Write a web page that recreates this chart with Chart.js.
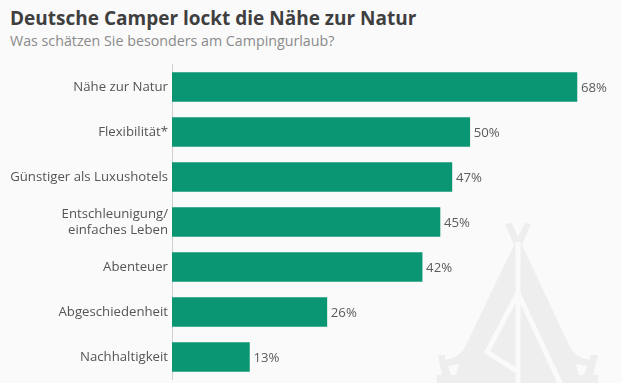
<!DOCTYPE html>
<html lang="de"><head><meta charset="utf-8">
<script src="https://cdn.jsdelivr.net/npm/chart.js@4"></script>
<style>
html,body{margin:0;padding:0;background:#fafafa;width:621px;height:383px;overflow:hidden;font-family:"Open Sans",sans-serif}
#title{position:absolute;left:10px;top:3px;margin:0;font-size:19px;line-height:30px;font-weight:700;color:#3f3f3f;white-space:nowrap}
#sub{position:absolute;left:10px;top:31px;margin:0;font-size:14.25px;line-height:20px;font-weight:400;color:#8a8a8a;white-space:nowrap}
#tent{position:absolute;left:0;top:0}
#wrap{position:absolute;left:0;top:0;width:621px;height:383px}
</style></head><body>
<svg id="tent" width="621" height="383" viewBox="0 0 621 383">
<path fill="#eeeeee" d="M514 245 L466 345 Q460 358 445 360 L445 355 L438 355 L442 375 L437 375 L437 383 L598 383 L598 375 L593 375 L598 355 L590 355 L590 360 Q575 358 569 345 L522 245 Z"/>
<path fill="#eeeeee" d="M505 224 L512 223 L518 237 L525 223 L531 224 L522 245 L514 245 Z"/>
<g fill="none" stroke="#fafafa" stroke-width="5">
<path d="M518 242 L518 383"/>
<path d="M518 293 L487 352 L518 372"/>
<path d="M518 293 L561 385"/>
</g>
<g fill="#fafafa"><path d="M448 366 L459 364 L456 375 L451 375 Z"/><path d="M576 364 L587 366 L584 375 L579 375 Z"/></g>
</svg>
<h1 id="title">Deutsche Camper lockt die Nähe zur Natur</h1>
<p id="sub">Was schätzen Sie besonders am Campingurlaub?</p>
<div id="wrap"><canvas id="c" width="621" height="383"></canvas></div>
<script>
const categories = ["Nähe zur Natur","Flexibilität*","Günstiger als Luxushotels",["Entschleunigung/","einfaches Leben"],"Abenteuer","Abgeschiedenheit","Nachhaltigkeit"];
const values = [68,50,47,45,42,26,13];
const valueLabels = ["68%","50%","47%","45%","42%","26%","13%"];
const valueLabelPlugin = {
  id:"valueLabels",
  afterDatasetsDraw(chart){
    const ctx=chart.ctx, meta=chart.getDatasetMeta(0);
    ctx.save();
    ctx.font='13.2px "Open Sans"';
    ctx.fillStyle="#5c5c5c";
    ctx.textAlign="left";ctx.textBaseline="middle";
    meta.data.forEach((bar,i)=>ctx.fillText(valueLabels[i],bar.x+4,bar.y+1));
    ctx.restore();
  }
};
new Chart(document.getElementById("c"),{
  type:"bar",
  data:{labels:categories,datasets:[{data:values,backgroundColor:"#0b9673",barThickness:29,borderWidth:0}]},
  options:{
    indexAxis:"y",responsive:false,animation:false,
    layout:{padding:{top:64.5,bottom:3.5,left:0,right:0}},
    plugins:{legend:{display:false},tooltip:{enabled:false}},
    scales:{
      x:{display:false,min:0,max:75.4},
      y:{
        afterFit(s){s.width=172;s.paddingTop=0;s.paddingBottom=0;},
        grid:{display:false,drawTicks:false},
        border:{display:true,color:"#cfcfcf",width:1},
        ticks:{color:"#555555",font:{family:'"Open Sans"',size:13.2,lineHeight:1.2},padding:4,crossAlign:"near"}
      }
    }
  },
  plugins:[valueLabelPlugin]
});
</script>
</body></html>
